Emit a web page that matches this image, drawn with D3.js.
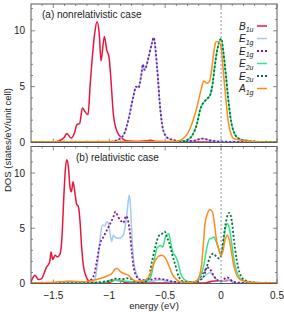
<!DOCTYPE html>
<html>
<head>
<meta charset="utf-8">
<script src="https://cdn.jsdelivr.net/npm/d3@7"></script>
<style>
  body { margin: 0; background: #fff; }
  svg { display: block; font-family: "Liberation Sans", Arial, sans-serif; }
</style>
</head>
<body>
<div id="chart"></div>
<script>
// orbital-projected DOS, [energy (eV), DOS] pairs
var seriesNames = [["B", "1u"], ["E", "1g"], ["E", "1g"], ["E", "2u"], ["E", "2u"], ["A", "1g"]];
var seriesColors = ["#e8153c", "#a3cbee", "#7d1a9c", "#2ee88c", "#0c6a3c", "#ff8a1e"];
var seriesDotted = [false, false, true, false, true, false];

// (a) nonrelativistic case
var nrB1u = [[-1.7,0.03],[-1.5,0.04],[-1.45,0.15],[-1.4,0.5],[-1.38,0.8],[-1.34,0.4],[-1.31,0.9],[-1.29,1.6],[-1.265,1.7],[-1.24,3.1],[-1.22,2.8],[-1.19,2.5],[-1.17,5.3],[-1.13,9.8],[-1.11,10.8],[-1.09,9.8],[-1.074,7.3],[-1.044,9.5],[-1.023,8.3],[-1.002,7.6],[-0.987,5.9],[-0.964,2.6],[-0.933,1.05],[-0.889,0.4],[-0.844,0.15],[-0.75,0.08],[-0.66,0.15],[-0.63,0.2],[-0.58,0.08],[-0.3,0.05],[0.5,0.02]];
var nrE1g = [[-1.7,0.02],[-1.0,0.05],[-0.966,0.1],[-0.904,0.35],[-0.859,0.96],[-0.83,2.0],[-0.785,4.1],[-0.76,5.0],[-0.74,4.9],[-0.71,6.3],[-0.7,7.0],[-0.685,6.5],[-0.647,7.7],[-0.618,8.9],[-0.603,9.4],[-0.573,6.8],[-0.543,2.9],[-0.513,0.95],[-0.468,0.35],[-0.35,0.12],[-0.25,0.15],[-0.17,0.35],[-0.08,0.15],[0.0,0.08],[0.5,0.02]];
var nrE1gDot = [[-1.7,0.02],[-1.0,0.05],[-0.966,0.1],[-0.904,0.35],[-0.859,0.96],[-0.83,2.0],[-0.785,4.1],[-0.76,5.0],[-0.74,4.9],[-0.71,6.3],[-0.7,7.0],[-0.685,6.5],[-0.647,7.7],[-0.618,8.9],[-0.603,9.4],[-0.573,6.8],[-0.543,2.9],[-0.513,0.95],[-0.468,0.35],[-0.35,0.12],[-0.25,0.15],[-0.17,0.35],[-0.08,0.15],[0.0,0.08],[0.5,0.02]];
var nrE2u = [[-1.7,0.02],[-0.6,0.03],[-0.35,0.08],[-0.29,0.3],[-0.26,0.6],[-0.215,1.7],[-0.186,3.0],[-0.155,3.6],[-0.126,3.9],[-0.096,4.3],[-0.075,5.3],[-0.057,6.8],[-0.036,8.2],[-0.015,9.05],[0.0,9.3],[0.018,8.3],[0.038,6.5],[0.062,4.1],[0.083,2.3],[0.113,0.96],[0.158,0.35],[0.217,0.2],[0.3,0.08],[0.5,0.03]];
var nrE2uDot = [[-1.7,0.02],[-0.6,0.03],[-0.35,0.08],[-0.29,0.3],[-0.26,0.6],[-0.215,1.7],[-0.186,3.0],[-0.155,3.6],[-0.126,3.9],[-0.096,4.3],[-0.075,5.3],[-0.057,6.8],[-0.036,8.2],[-0.015,9.05],[0.0,9.3],[0.018,8.3],[0.038,6.5],[0.062,4.1],[0.083,2.3],[0.113,0.96],[0.158,0.35],[0.217,0.2],[0.3,0.08],[0.5,0.03]];
var nrA1g = [[-1.7,0.05],[-0.9,0.08],[-0.6,0.1],[-0.4,0.1],[-0.349,0.27],[-0.3,0.8],[-0.26,1.7],[-0.215,3.2],[-0.177,4.8],[-0.155,5.5],[-0.126,5.3],[-0.102,5.5],[-0.081,6.8],[-0.066,8.0],[-0.051,8.9],[-0.036,9.05],[-0.015,8.95],[0.003,8.3],[0.024,5.9],[0.044,3.8],[0.062,2.0],[0.083,0.96],[0.113,0.35],[0.187,0.2],[0.3,0.06],[0.5,0.03]];

// (b) relativistic case
var relB1u = [[-1.7,0.15],[-1.664,0.75],[-1.634,0.36],[-1.604,0.45],[-1.59,0.75],[-1.56,1.5],[-1.545,1.7],[-1.53,2.1],[-1.521,2.86],[-1.506,2.17],[-1.485,2.56],[-1.465,2.4],[-1.441,2.65],[-1.423,4.2],[-1.408,7.5],[-1.393,10.3],[-1.381,11.2],[-1.366,10.6],[-1.351,8.7],[-1.339,8.3],[-1.324,9.2],[-1.306,8.1],[-1.291,7.15],[-1.277,7.0],[-1.262,5.7],[-1.247,3.3],[-1.232,1.65],[-1.208,0.66],[-1.178,0.2],[-1.1,0.05],[-1.0,0.1],[-0.95,0.3],[-0.9,0.25],[-0.85,0.1],[-0.7,0.05],[-0.5,0.05],[-0.15,0.05],[-0.08,0.2],[-0.03,0.25],[0.0,0.2],[0.04,0.25],[0.08,0.3],[0.12,0.1],[0.2,0.03],[0.5,0.02]];
var relE1g = [[-1.7,0.02],[-1.45,0.05],[-1.38,0.2],[-1.3,0.15],[-1.2,0.1],[-1.157,0.2],[-1.127,0.45],[-1.098,2.4],[-1.077,4.5],[-1.059,5.3],[-1.038,5.2],[-1.023,5.6],[-1.008,5.45],[-0.993,4.5],[-0.978,3.8],[-0.964,4.4],[-0.949,4.2],[-0.919,4.1],[-0.889,4.2],[-0.874,4.4],[-0.859,5.1],[-0.839,6.6],[-0.821,8.0],[-0.808,6.6],[-0.8,4.8],[-0.785,2.4],[-0.767,1.2],[-0.74,0.5],[-0.695,0.2],[-0.62,0.2],[-0.55,0.35],[-0.48,0.2],[-0.3,0.1],[-0.18,0.4],[-0.13,0.8],[-0.1,1.0],[-0.07,0.7],[-0.03,0.25],[0.0,0.15],[0.05,0.35],[0.08,0.3],[0.13,0.1],[0.5,0.02]];
var relE1gDot = [[-1.7,0.02],[-1.3,0.05],[-1.2,0.15],[-1.157,0.4],[-1.13,1.0],[-1.112,2.0],[-1.083,3.6],[-1.053,4.2],[-1.023,4.8],[-0.993,5.4],[-0.964,6.0],[-0.945,6.5],[-0.919,6.0],[-0.889,5.6],[-0.874,5.5],[-0.85,6.1],[-0.83,5.6],[-0.814,4.5],[-0.8,3.0],[-0.785,1.65],[-0.761,0.75],[-0.725,0.35],[-0.65,0.3],[-0.58,0.45],[-0.5,0.35],[-0.42,0.15],[-0.25,0.1],[-0.173,0.75],[-0.144,1.2],[-0.123,1.45],[-0.099,1.3],[-0.069,0.75],[-0.039,0.35],[-0.01,0.2],[0.02,0.35],[0.05,0.55],[0.074,0.45],[0.1,0.2],[0.15,0.08],[0.5,0.02]];
var relE2u = [[-1.7,0.02],[-1.2,0.05],[-1.05,0.1],[-0.95,0.3],[-0.88,0.25],[-0.8,0.15],[-0.7,0.2],[-0.65,0.3],[-0.62,0.9],[-0.6,2.0],[-0.573,3.2],[-0.543,3.45],[-0.522,3.3],[-0.499,4.16],[-0.468,4.5],[-0.454,3.9],[-0.433,2.86],[-0.409,2.5],[-0.385,1.9],[-0.364,1.0],[-0.334,0.4],[-0.29,0.15],[-0.25,0.1],[-0.2,0.45],[-0.158,1.5],[-0.128,3.2],[-0.105,4.0],[-0.083,4.1],[-0.063,4.2],[-0.045,3.8],[-0.024,3.2],[-0.003,2.7],[0.015,3.3],[0.035,4.8],[0.056,5.4],[0.074,5.0],[0.095,3.6],[0.116,2.1],[0.14,1.05],[0.17,0.45],[0.214,0.2],[0.3,0.08],[0.5,0.03]];
var relE2uDot = [[-1.7,0.02],[-1.2,0.05],[-1.0,0.25],[-0.95,0.45],[-0.88,0.4],[-0.82,0.5],[-0.78,0.2],[-0.7,0.1],[-0.65,0.4],[-0.618,2.0],[-0.588,3.3],[-0.558,4.3],[-0.528,4.5],[-0.504,4.7],[-0.485,4.2],[-0.468,3.8],[-0.439,2.7],[-0.409,1.65],[-0.38,0.65],[-0.34,0.2],[-0.25,0.1],[-0.19,0.3],[-0.158,0.6],[-0.128,1.5],[-0.099,2.4],[-0.069,2.7],[-0.039,2.4],[-0.015,2.26],[0.006,2.86],[0.027,4.5],[0.05,5.9],[0.074,6.4],[0.095,5.7],[0.116,3.9],[0.14,2.1],[0.163,1.05],[0.193,0.45],[0.24,0.2],[0.3,0.08],[0.5,0.03]];
var relA1g = [[-1.7,0.05],[-1.55,0.08],[-1.45,0.15],[-1.35,0.2],[-1.25,0.15],[-1.18,0.2],[-1.083,0.45],[-1.023,0.66],[-0.978,0.9],[-0.949,1.27],[-0.928,1.35],[-0.898,1.05],[-0.868,0.9],[-0.83,0.75],[-0.8,0.45],[-0.76,0.2],[-0.7,0.25],[-0.647,0.6],[-0.602,1.8],[-0.557,2.47],[-0.528,2.56],[-0.498,2.3],[-0.468,1.65],[-0.439,0.9],[-0.409,0.45],[-0.364,0.15],[-0.28,0.1],[-0.22,0.2],[-0.203,0.45],[-0.173,1.8],[-0.158,3.6],[-0.144,5.4],[-0.123,6.3],[-0.099,6.7],[-0.078,6.5],[-0.063,5.7],[-0.045,4.2],[-0.024,3.2],[-0.003,2.56],[0.015,2.86],[0.035,3.9],[0.056,4.4],[0.074,3.9],[0.095,2.7],[0.116,1.5],[0.14,0.75],[0.17,0.35],[0.214,0.2],[0.3,0.08],[0.5,0.05]];

var xTicks = [-1.5, -1, -0.5, 0, 0.5];
var yTicks = [0, 5, 10];
var panelLabels = ["(a) nonrelativistic case", "(b) relativistic case"];

var width = 284, height = 312;
var left = 31, right = 277;
var panels = [
    { top: 4, bottom: 142.5, label: panelLabels[0], labelX: 42, data: [nrB1u, nrE1g, nrE1gDot, nrE2u, nrE2uDot, nrA1g] },
    { top: 146.5, bottom: 283.5, label: panelLabels[1], labelX: 76, data: [relB1u, relE1g, relE1gDot, relE2u, relE2uDot, relA1g] }
];

var svg = d3.select("#chart").append("svg")
    .attr("width", width)
    .attr("height", height);

var x = d3.scaleLinear().domain([-1.7, 0.5]).range([left, right]);
var frameColor = "#5a5a5a";

panels.forEach(function(p, pi) {
    var y = d3.scaleLinear().domain([0, 12.4]).range([p.bottom, p.top]);
    var g = svg.append("g");

    g.append("clipPath").attr("id", "clip" + pi)
        .append("rect")
        .attr("x", left).attr("y", p.top)
        .attr("width", right - left).attr("height", p.bottom - p.top);

    // inward ticks, mirrored on every side
    var yMinor = d3.range(0, 13, 1);
    g.selectAll("line.ytick-l").data(yMinor).enter().append("line")
        .attr("x1", left).attr("x2", function(d) { return left + (d % 5 == 0 ? 4 : 2); })
        .attr("y1", function(d) { return y(d); }).attr("y2", function(d) { return y(d); })
        .attr("stroke", frameColor).attr("stroke-width", 0.7);
    g.selectAll("line.ytick-r").data(yMinor).enter().append("line")
        .attr("x1", right).attr("x2", function(d) { return right - (d % 5 == 0 ? 4 : 2); })
        .attr("y1", function(d) { return y(d); }).attr("y2", function(d) { return y(d); })
        .attr("stroke", frameColor).attr("stroke-width", 0.7);

    var xMinor = d3.range(-16, 6, 1).map(function(d) { return d / 10; });
    [p.top, p.bottom].forEach(function(edge, ei) {
        var dir = ei == 0 ? 1 : -1;
        g.selectAll("line.xtick" + ei).data(xMinor).enter().append("line")
            .attr("x1", function(d) { return x(d); }).attr("x2", function(d) { return x(d); })
            .attr("y1", edge)
            .attr("y2", function(d) { return edge + dir * (Math.abs(d * 2 - Math.round(d * 2)) < 1e-6 ? 4 : 2); })
            .attr("stroke", frameColor).attr("stroke-width", 0.7);
    });

    var line = d3.line()
        .x(function(d) { return x(d[0]); })
        .y(function(d) { return y(d[1]); })
        .curve(d3.curveMonotoneX);

    var curves = g.append("g").attr("clip-path", "url(#clip" + pi + ")");
    p.data.forEach(function(series, si) {
        curves.append("path")
            .attr("d", line(series))
            .attr("fill", "none")
            .attr("stroke", seriesColors[si])
            .attr("stroke-width", seriesDotted[si] ? 1.8 : 1.5)
            .attr("stroke-dasharray", seriesDotted[si] ? "2,2" : null)
            .attr("stroke-linejoin", "round");
    });

    g.append("rect")
        .attr("x", left).attr("y", p.top)
        .attr("width", right - left).attr("height", p.bottom - p.top)
        .attr("fill", "none").attr("stroke", frameColor).attr("stroke-width", 1);

    g.selectAll("text.ylab").data(yTicks).enter().append("text")
        .attr("x", left - 6)
        .attr("y", function(d) { return y(d) + 3.5; })
        .attr("text-anchor", "end")
        .attr("font-size", 10)
        .attr("fill", "#222")
        .text(function(d) { return d; });

    g.append("text")
        .attr("x", p.labelX).attr("y", p.top + 14)
        .attr("font-size", 10).attr("fill", "#222")
        .text(p.label);
});

// Fermi level
svg.append("line")
    .attr("x1", x(0)).attr("x2", x(0))
    .attr("y1", panels[0].top).attr("y2", panels[1].bottom)
    .attr("stroke", "#999").attr("stroke-width", 1)
    .attr("stroke-dasharray", "2,2");

// x axis labels (bottom panel only)
svg.selectAll("text.xlab").data(xTicks).enter().append("text")
    .attr("x", function(d) { return x(d); })
    .attr("y", panels[1].bottom + 15)
    .attr("text-anchor", "middle")
    .attr("font-size", 10)
    .attr("fill", "#222")
    .text(function(d) { return d3.format("")(d); });

svg.append("text")
    .attr("x", (left + right) / 2).attr("y", 309)
    .attr("text-anchor", "middle")
    .attr("font-size", 9.5).attr("fill", "#222")
    .text("energy (eV)");

svg.append("text")
    .attr("transform", "translate(11,140) rotate(-90)")
    .attr("text-anchor", "middle")
    .attr("font-size", 9.5).attr("fill", "#222")
    .text("DOS (states/eV/unit cell)");

// legend
var legend = svg.append("g");
seriesNames.forEach(function(n, i) {
    var ly = 26 + i * 12.5;
    var t = legend.append("text")
        .attr("x", 253.5).attr("y", ly + 3.5)
        .attr("text-anchor", "end")
        .attr("font-size", 10).attr("fill", "#222")
        .attr("font-style", "italic");
    t.append("tspan").text(n[0]);
    t.append("tspan").attr("font-size", 7).attr("dy", 2.5).text(n[1]);
    legend.append("line")
        .attr("x1", 257).attr("x2", 267)
        .attr("y1", ly).attr("y2", ly)
        .attr("stroke", seriesColors[i])
        .attr("stroke-width", seriesDotted[i] ? 1.8 : 1.5)
        .attr("stroke-dasharray", seriesDotted[i] ? "2,2" : null);
});
</script>
</body>
</html>
